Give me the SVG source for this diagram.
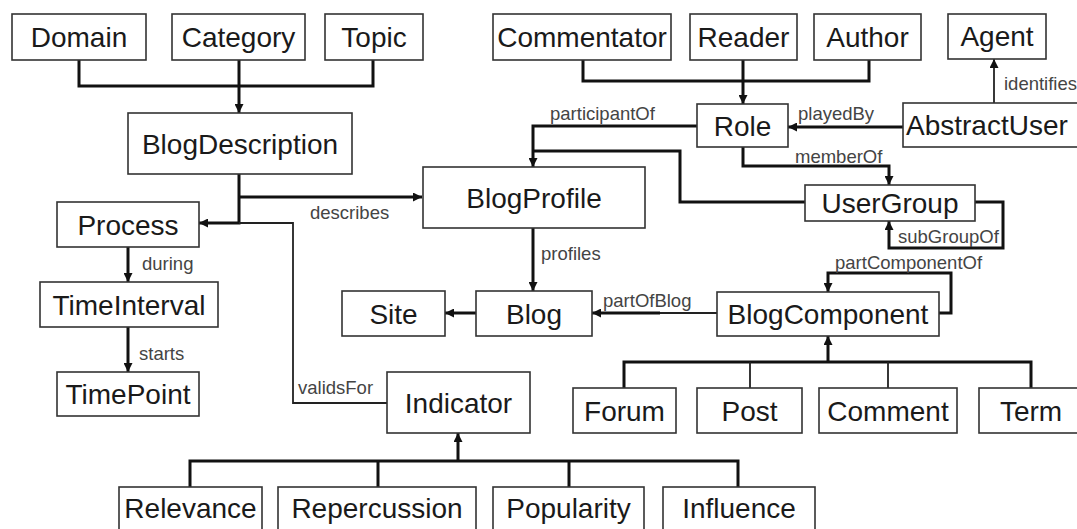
<svg xmlns="http://www.w3.org/2000/svg" width="1077" height="529" viewBox="0 0 1077 529">
<style>
.box{fill:#fff;stroke:#333;stroke-width:1.6}
.t{font-family:"Liberation Sans",Arial,sans-serif;font-size:28px;fill:#1a1a1a;text-anchor:middle}
.lbl{font-family:"Liberation Sans",Arial,sans-serif;font-size:18.5px;fill:#444}
.c{fill:none;stroke:#111;stroke-width:3}
.thin{fill:none;stroke:#222;stroke-width:1.8}
.a{marker-end:url(#arr)}
</style>
<defs>
<marker id="arr" viewBox="0 0 10 10" refX="10" refY="5" markerWidth="9" markerHeight="9" markerUnits="userSpaceOnUse" orient="auto">
<path d="M0,0 L10,5 L0,10 z" fill="#111"/>
</marker>
</defs>
<rect width="1077" height="529" fill="#fff"/>
<g id="connectors">
<path class="c" d="M79,60 V86 H373 V60"/>
<path class="c a" d="M239,60 V113"/>
<path class="c a" d="M239,174 V223 H199"/>
<path class="c a" d="M239,197 H422"/>
<path class="thin" d="M387,403 H293 V223 H239"/>
<path class="c a" d="M128,247 V282"/>
<path class="c a" d="M128,327 V372"/>
<path class="c" d="M583,60 V81 H869 V60"/>
<path class="c a" d="M743,60 V104"/>
<path class="c a" d="M903,127 H788"/>
<path class="thin a" d="M994,103 V59"/>
<path class="c a" d="M697,126 H533 V167"/>
<path class="c" d="M806,202 H680 V151 H533"/>
<path class="c a" d="M743,147 V166 H889 V185"/>
<path class="c a" d="M975,202 H1003 V248 H889 V221"/>
<path class="c a" d="M533,228 V291"/>
<path class="c a" d="M476,313 H445"/>
<path class="thin" d="M717,313 H655"/>
<path class="c a" d="M660,313 H592"/>
<path class="c a" d="M939,313 H951 V273 H828 V292"/>
<path class="c" d="M624,388 V362 H1031 V388"/>
<path class="thin" d="M750,362 V388 M888,362 V388"/>
<path class="c a" d="M828,362 V336"/>
<path class="c" d="M190,487 V461 H738 V487"/>
<path class="c" d="M378,461 V487 M569,461 V487"/>
<path class="c a" d="M458,461 V433"/>
<text class="lbl" x="310" y="219">describes</text>
<text class="lbl" x="142" y="270">during</text>
<text class="lbl" x="139" y="360">starts</text>
<text class="lbl" x="798" y="120">playedBy</text>
<text class="lbl" x="1004" y="90">identifies</text>
<text class="lbl" x="550" y="120">participantOf</text>
<text class="lbl" x="795" y="163">memberOf</text>
<text class="lbl" x="898" y="243">subGroupOf</text>
<text class="lbl" x="541" y="260">profiles</text>
<text class="lbl" x="603" y="307">partOfBlog</text>
<text class="lbl" x="835" y="269">partComponentOf</text>
<text class="lbl" x="298" y="394">validsFor</text>
</g>
<g id="Domain"><rect class="box" x="12" y="14" width="134" height="46"/><text class="t" x="79" y="47">Domain</text></g>
<g id="Category"><rect class="box" x="172" y="14" width="133" height="46"/><text class="t" x="238.5" y="47">Category</text></g>
<g id="Topic"><rect class="box" x="325" y="14" width="98" height="46"/><text class="t" x="374" y="47">Topic</text></g>
<g id="Commentator"><rect class="box" x="493" y="14" width="178" height="46"/><text class="t" x="582" y="47">Commentator</text></g>
<g id="Reader"><rect class="box" x="690" y="14" width="107" height="46"/><text class="t" x="743.5" y="47">Reader</text></g>
<g id="Author"><rect class="box" x="814" y="14" width="107" height="46"/><text class="t" x="867.5" y="47">Author</text></g>
<g id="Agent"><rect class="box" x="948" y="14" width="98" height="45"/><text class="t" x="997" y="46">Agent</text></g>
<g id="BlogDescription"><rect class="box" x="128" y="113" width="224" height="61"/><text class="t" x="240" y="153.5">BlogDescription</text></g>
<g id="Role"><rect class="box" x="697" y="104" width="91" height="43"/><text class="t" x="742.5" y="135.5">Role</text></g>
<g id="AbstractUser"><rect class="box" x="903" y="103" width="190" height="44"/><text class="t" x="906" y="135" style="text-anchor:start">AbstractUser</text></g>
<g id="BlogProfile"><rect class="box" x="423" y="167" width="222" height="61"/><text class="t" x="534" y="207.5">BlogProfile</text></g>
<g id="UserGroup"><rect class="box" x="805" y="185" width="170" height="36"/><text class="t" x="890" y="213">UserGroup</text></g>
<g id="Process"><rect class="box" x="57" y="202" width="142" height="45"/><text class="t" x="128" y="234.5">Process</text></g>
<g id="TimeInterval"><rect class="box" x="40" y="282" width="178" height="45"/><text class="t" x="129" y="314.5">TimeInterval</text></g>
<g id="TimePoint"><rect class="box" x="57" y="372" width="142" height="44"/><text class="t" x="128" y="404">TimePoint</text></g>
<g id="Site"><rect class="box" x="342" y="291" width="103" height="45"/><text class="t" x="393.5" y="323.5">Site</text></g>
<g id="Blog"><rect class="box" x="476" y="291" width="116" height="45"/><text class="t" x="534" y="323.5">Blog</text></g>
<g id="BlogComponent"><rect class="box" x="717" y="292" width="222" height="44"/><text class="t" x="828" y="324">BlogComponent</text></g>
<g id="Indicator"><rect class="box" x="387" y="372" width="143" height="61"/><text class="t" x="458.5" y="412.5">Indicator</text></g>
<g id="Forum"><rect class="box" x="573" y="388" width="103" height="45"/><text class="t" x="624.5" y="420.5">Forum</text></g>
<g id="Post"><rect class="box" x="697" y="388" width="105" height="45"/><text class="t" x="749.5" y="420.5">Post</text></g>
<g id="Comment"><rect class="box" x="819" y="388" width="138" height="45"/><text class="t" x="888" y="420.5">Comment</text></g>
<g id="Term"><rect class="box" x="979" y="388" width="104" height="45"/><text class="t" x="1031" y="420.5">Term</text></g>
<g id="Relevance"><rect class="box" x="119" y="487" width="143" height="45"/><text class="t" x="190.5" y="518">Relevance</text></g>
<g id="Repercussion"><rect class="box" x="278" y="487" width="198" height="45"/><text class="t" x="377" y="518">Repercussion</text></g>
<g id="Popularity"><rect class="box" x="493" y="487" width="151" height="45"/><text class="t" x="568.5" y="518">Popularity</text></g>
<g id="Influence"><rect class="box" x="663" y="487" width="152" height="45"/><text class="t" x="739" y="518">Influence</text></g>
</svg>
